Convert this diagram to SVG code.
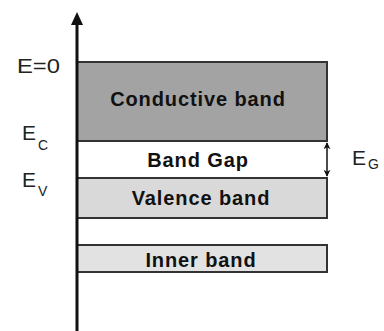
<svg xmlns="http://www.w3.org/2000/svg" width="384" height="331" viewBox="0 0 384 331">
<style>
.band{stroke:#333;stroke-width:2}
.bt{font-family:"Liberation Sans",Arial,sans-serif;font-weight:bold;font-size:20px;fill:#111;text-anchor:middle;letter-spacing:0.9px}
.lb{font-family:"Liberation Sans",Arial,sans-serif;font-size:21px;fill:#222}
.sb{font-family:"Liberation Sans",Arial,sans-serif;font-size:14px;fill:#222}
</style>
<defs>
<marker id="ah" viewBox="0 0 10 10" refX="9" refY="5" markerWidth="7" markerHeight="7" orient="auto-start-reverse" markerUnits="userSpaceOnUse">
<path d="M0,0 L10,5 L0,10 L3,5 z" fill="#111"/>
</marker>
</defs>
<rect width="384" height="331" fill="#fff"/>
<g id="conductive">
<rect class="band" x="77" y="62" width="250" height="79" fill="#a3a3a3"/>
<text class="bt" x="198" y="106">Conductive band</text>
</g>
<g id="gap">
<rect x="78" y="142" width="248" height="35" fill="#fff"/>
<text class="bt" x="198" y="167">Band Gap</text>
</g>
<g id="valence">
<rect class="band" x="77" y="178" width="250" height="40" fill="#d9d9d9"/>
<text class="bt" x="201" y="205">Valence band</text>
</g>
<g id="inner">
<rect class="band" x="77" y="245" width="250" height="27" fill="#e2e2e2"/>
<text class="bt" x="201" y="267">Inner band</text>
</g>
<g id="connectors">
<line x1="77" y1="331" x2="77" y2="24" stroke="#111" stroke-width="3"/>
<path d="M77,12 L71,25 L83,25 z" fill="#111"/>
<line x1="327" y1="143" x2="327" y2="176" stroke="#111" stroke-width="1.5" marker-start="url(#ah)" marker-end="url(#ah)"/>
</g>
<g id="labels">
<text class="lb" x="17" y="73" font-size="19" textLength="43" lengthAdjust="spacingAndGlyphs">E=0</text>
<text class="lb" x="22" y="140">E</text>
<text class="sb" x="38" y="150">C</text>
<text class="lb" x="22" y="187">E</text>
<text class="sb" x="38" y="196">V</text>
<text class="lb" x="352" y="165">E</text>
<text class="sb" x="368" y="169">G</text>
</g>
</svg>
